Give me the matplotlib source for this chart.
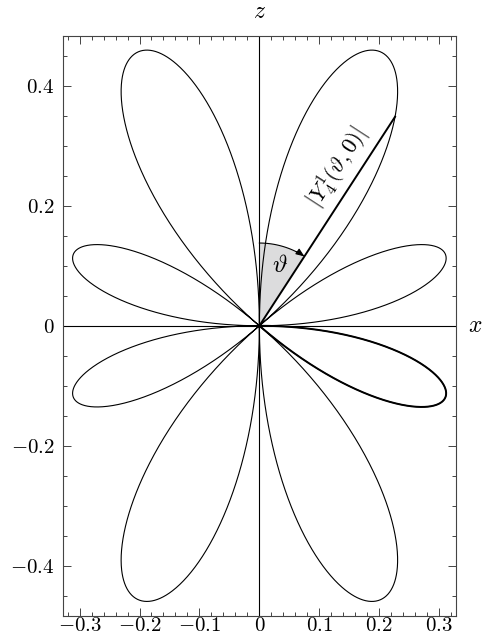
import numpy as np
import matplotlib
matplotlib.use("Agg")
import matplotlib.pyplot as plt
from matplotlib.patches import Wedge, FancyArrowPatch
from matplotlib.ticker import MultipleLocator, FixedLocator

plt.rcParams['mathtext.fontset'] = 'cm'
plt.rcParams['font.family'] = ['DejaVu Serif']

# Spherical harmonic |Y_4^1(theta, 0)| : parameters
degree_l = 4
order_m = 1
norm_coef = 3.0 / 8.0 * np.sqrt(5.0 / np.pi)
legendre_coefs = [7.0, 0.0, -3.0, 0.0]   # 7 cos^3 - 3 cos
theta_marker_deg = 33.0
arc_radius = 0.138

x_ticks = [-0.3, -0.2, -0.1, 0.0, 0.1, 0.2, 0.3]
x_tick_labels = [r'$-0.3$', r'$-0.2$', r'$-0.1$', r'$0$', r'$0.1$', r'$0.2$', r'$0.3$']
z_ticks = [-0.4, -0.2, 0.0, 0.2, 0.4]
z_tick_labels = [r'$-0.4$', r'$-0.2$', r'$0$', r'$0.2$', r'$0.4$']


def radius(theta):
    c = np.cos(theta)
    return np.abs(norm_coef * np.sin(theta) * np.polyval(legendre_coefs, c))


fig = plt.figure(figsize=(4.83, 6.35), dpi=100)
ax = fig.add_axes([0.130, 0.030, 0.814, 0.913])

theta = np.linspace(0, 2 * np.pi, 4001)
r = radius(theta)
ax.plot(r * np.sin(theta), r * np.cos(theta), color='black', lw=0.8, zorder=3)

# emphasised lower-right lobe
t2 = np.linspace(np.pi / 2, np.arccos(-np.sqrt(3 / 7)), 800)
r2 = radius(t2)
ax.plot(r2 * np.sin(t2), r2 * np.cos(t2), color='black', lw=1.4, zorder=3)

# coordinate axes
ax.axhline(0, color='black', lw=0.8, zorder=2)
ax.axvline(0, color='black', lw=0.8, zorder=2)

# angle wedge
tm = np.deg2rad(theta_marker_deg)
ax.add_patch(Wedge((0, 0), arc_radius, 90 - theta_marker_deg, 90,
                   facecolor='#dcdcdd', edgecolor='none', zorder=1))
ta = np.linspace(0, tm - np.deg2rad(1.0), 100)
ax.plot(arc_radius * np.sin(ta), arc_radius * np.cos(ta), color='black', lw=0.8, zorder=4)
ax.add_patch(FancyArrowPatch(
    (arc_radius * np.sin(tm - 0.12), arc_radius * np.cos(tm - 0.12)),
    (arc_radius * np.sin(tm), arc_radius * np.cos(tm)),
    connectionstyle="arc3,rad=-0.05", arrowstyle='-|>,head_length=5,head_width=2',
    color='black', lw=0.8, zorder=4, shrinkA=0, shrinkB=0, mutation_scale=1))
ax.text(0.034, 0.100, r'$\vartheta$', fontsize=18, ha='center', va='center', zorder=5)

# radius line
rm = radius(tm)
ax.plot([0, rm * np.sin(tm)], [0, rm * np.cos(tm)], color='black', lw=1.4, zorder=4)
ax.text(0.131, 0.264, r'$|Y_4^1(\vartheta,0)|$', fontsize=16.5, rotation=90 - theta_marker_deg,
        rotation_mode='anchor', ha='center', va='center', zorder=5)

ax.set_xlim(-0.328, 0.328)
ax.set_ylim(-0.484, 0.483)

ax.xaxis.set_major_locator(FixedLocator(x_ticks))
ax.set_xticklabels(x_tick_labels)
ax.yaxis.set_major_locator(FixedLocator(z_ticks))
ax.set_yticklabels(z_tick_labels)
ax.xaxis.set_minor_locator(MultipleLocator(0.02))
ax.yaxis.set_minor_locator(MultipleLocator(0.05))
ax.tick_params(which='both', direction='in', top=True, right=True, labelsize=15,
               width=0.7, color='#444444')
ax.tick_params(which='major', length=6)
ax.tick_params(which='minor', length=3)
ax.tick_params(axis='x', which='major', pad=0)
ax.tick_params(axis='y', which='major', pad=6)
for s in ax.spines.values():
    s.set_linewidth(0.8)
    s.set_color('#444444')

ax.text(0.0, 1.022, r'$z$', transform=ax.get_xaxis_transform(), fontsize=17,
        ha='center', va='bottom')
ax.text(1.03, 0.0, r'$x$', transform=ax.get_yaxis_transform(), fontsize=17,
        ha='left', va='center')

fig.savefig('out.png', dpi=100)
